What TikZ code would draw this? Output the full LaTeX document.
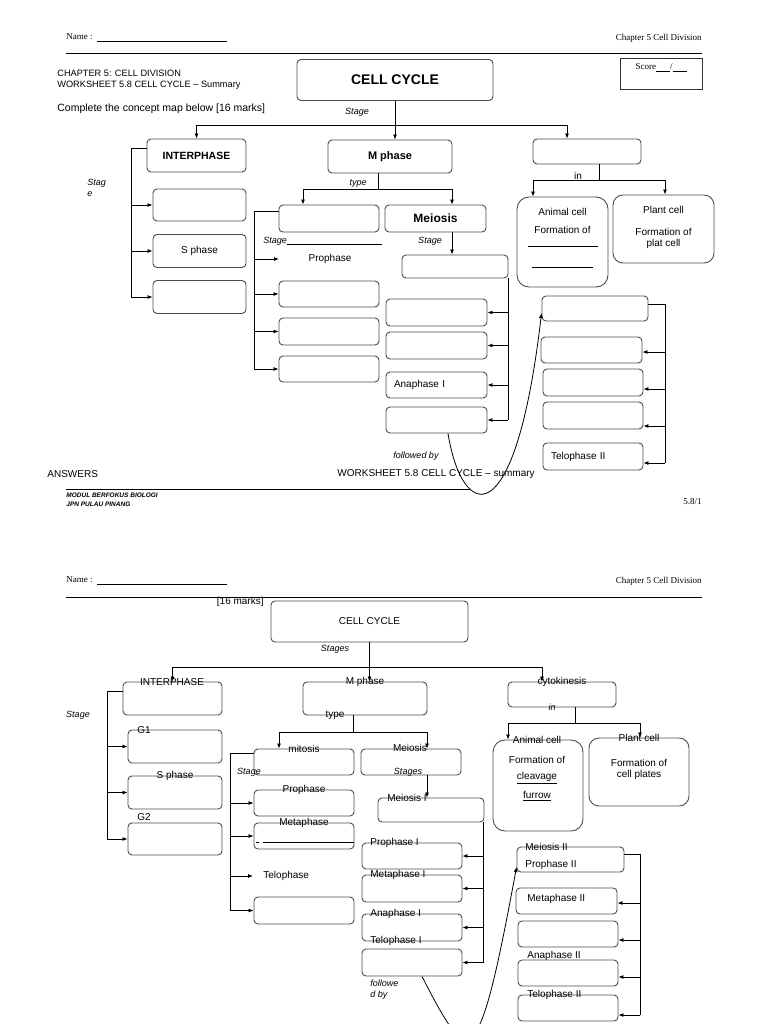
\documentclass[tikz,border=0pt]{standalone}
\usepackage{fontspec}
\setmainfont{Liberation Sans}
\newfontfamily\timesf{Liberation Serif}
\usetikzlibrary{arrows.meta}
\usetikzlibrary{positioning}
\usetikzlibrary{scopes}

\tikzset{
  box/.style={draw=black!70, rounded corners=4pt, line width=0.9pt, inner sep=0pt, font=\fontsize{10}{12}\selectfont},
  wh/.style 2 args={minimum width=#1pt, minimum height=#2pt},
  lbl/.style={inner sep=0pt, font=\fontsize{10}{12}\selectfont},
  itl/.style={inner sep=0pt, font=\fontsize{9}{11}\selectfont\itshape},
  hd/.style={inner sep=0pt, font=\timesf\fontsize{9}{11}\selectfont},
  arr/.style={-{Latex[length=5pt,width=4pt]}},
}

\begin{document}
\begin{tikzpicture}[x=1pt, y=-1pt, line width=0.8pt]
    \useasboundingbox (0,0) rectangle (768,1024);

    { [line width=1pt]
        \draw (66,54) -- (702,54);
        \draw (66,489) -- (470,489);
        \draw (66,597) -- (702,597);
    }
    \node[hd, anchor=west] (name1) at (66,38) {Name :\enspace\underline{\hspace{130pt}}};
    \node[hd, anchor=east] (chap1) at (702,38) {Chapter 5 Cell Division};
    \node[lbl, anchor=west, font=\fontsize{9.2}{11}\selectfont] (title1) at (57,73) {CHAPTER 5: CELL DIVISION};
    \node[lbl, anchor=west, font=\fontsize{9.2}{11}\selectfont] (title2) at (57,85) {WORKSHEET 5.8 CELL CYCLE -- Summary};
    \node[lbl, anchor=west, font=\fontsize{10.5}{12}\selectfont] (task1) at (57,109) {Complete the concept map below [16 marks]};
    \node[draw=black!80, wh={82}{31}, inner sep=0pt] (score) at (661,73.5) {};
    \node[hd] (scoretxt) at (661,68) {Score\underline{\hspace{14pt}}/\underline{\hspace{14pt}}};

    \node[box, wh={196}{41}, font=\bfseries\fontsize{14}{16}\selectfont] (cc) at (395,80) {CELL CYCLE};
    \node[itl] (stg1) at (357,112) {Stage};
    \node[box, wh={99}{33}, font=\bfseries\fontsize{10.5}{12}\selectfont] (inter) at (196.5,155.5) {INTERPHASE};
    \node[box, wh={93}{32}] (i1) at (199.5,205) {};
    \node[box, wh={93}{33}] (i2) at (199.5,251) {S phase};
    \node[box, wh={93}{33}] (i3) at (199.5,297) {};
    \node[itl, align=left, anchor=north west] (stg0) at (87,179) {Stag\\e};

    \node[box, wh={124}{33}, font=\bfseries\fontsize{11}{13}\selectfont] (mph) at (390,156.5) {M phase};
    \node[itl] (typ1) at (358,184) {type};
    \node[box, wh={100}{27}] (mit) at (329,218.5) {};
    \node[box, wh={101}{27}, font=\bfseries\fontsize{12}{14}\selectfont] (mei) at (435.5,218.5) {Meiosis};
    \node[itl] (stg3) at (430,241) {Stage};
    \node[box, wh={106}{23}] (mI) at (455,266.5) {};
    \node[itl, anchor=west] (stg2) at (263,241) {Stage\rule[-1.5pt]{95pt}{0.6pt}};
    \node[lbl] (pro1) at (330,259) {Prophase};
    \coordinate (pro1in) at (279,259);
    \node[box, wh={100}{26}] (m1) at (329,294) {};
    \node[box, wh={100}{27}] (m2) at (329,331.5) {};
    \node[box, wh={100}{26}] (m3) at (329,369) {};

    \node[box, wh={101}{27}] (b1) at (436.5,312.5) {};
    \node[box, wh={101}{27}] (b2) at (436.5,345.5) {};
    \node[box, wh={101}{26}, text width=85pt, align=left] (b3) at (436.5,385) {Anaphase I};
    \node[box, wh={101}{26}] (b4) at (436.5,420) {};
    \node[itl] (fol1) at (416,456) {followed by};

    \node[box, wh={106}{25}] (mII) at (595,308.5) {};
    \node[box, wh={101}{26}] (n1) at (591.5,350) {};
    \node[box, wh={100}{27}] (n2) at (593,382.5) {};
    \node[box, wh={100}{27}] (n3) at (593,415.5) {};
    \node[box, wh={100}{27}, text width=84pt, align=left] (n4) at (593,456.5) {Telophase II};

    \node[box, wh={108}{25}] (cyto) at (587,151.5) {};
    \node[lbl] (in1) at (578,176) {in};
    \node[box, wh={91}{90}, rounded corners=12pt] (ani) at (562.5,242) {};
    \node[lbl] (ani1) at (562.5,212) {Animal cell};
    \node[lbl] (ani2t) at (562.5,230) {Formation of};
    \draw (528,246) -- (598,246);
    \draw (532,267) -- (593,267);
    \node[box, wh={101}{68}, rounded corners=10pt] (pla) at (663.5,229) {};
    \node[lbl] (pla1) at (663.5,210) {Plant cell};
    \node[lbl] (pla2t) at (663.5,232) {Formation of};
    \node[lbl] (pla3) at (663.5,244) {plat cell};

    \coordinate (bus1) at (395,125);
    \draw (cc.south) -- (bus1);
    \draw[arr] (bus1) -| (inter.north);
    \draw[arr] (bus1) -- (bus1 |- mph.north);
    \draw[arr] (bus1) -| ([xshift=-20pt]cyto.north);
    \coordinate (ibr) at (131,148);
    \draw ([yshift=7.5pt]inter.west) -- (ibr) -- (ibr |- i3.west);
    \foreach \b in {i1,i2,i3} \draw[arr] (ibr |- \b.west) -- (\b.west);
    \coordinate (mbus) at (378,189);
    \draw ([xshift=-12pt]mph.south) -- (mbus);
    \draw[arr] (mbus) -| ([xshift=-26pt]mit.north);
    \draw[arr] (mbus) -| ([xshift=16.5pt]mei.north);
    \draw[arr] ([xshift=16.5pt]mei.south) -- ([xshift=16.5pt]mei.south |- mI.north);
    \coordinate (mbr) at (254,211);
    \draw ([yshift=7.5pt]mit.west) -- (mbr) -- (mbr |- m3.west);
    \draw[arr] (mbr |- pro1in) -- (pro1in);
    \foreach \b in {m1,m2,m3} \draw[arr] (mbr |- \b.west) -- (\b.west);
    \coordinate (br1) at (508,278);
    \draw (br1) -- (br1 |- b4.east);
    \foreach \b in {b1,b2,b3,b4} \draw[arr] (br1 |- \b.east) -- (\b.east);
    \coordinate (br2) at (665,304);
    \draw ([yshift=4.5pt]mII.east) -- (br2) -- ([yshift=-6.5pt]br2 |- n4.east);
    \foreach \b/\d in {n1/2,n2/6.5,n3/10.5,n4/6.5}
        \draw[arr] ([yshift=-\d pt]br2 |- \b.east) -- ([yshift=-\d pt]\b.east);
    \draw[arr] ([xshift=11.5pt]b4.south) .. controls (462,520) and (515,540) .. ([yshift=-4.5pt]mII.west);
    \coordinate (cbus) at (599,180);
    \draw ([xshift=12pt]cyto.south) -- (cbus);
    \draw[arr] (cbus) -| ([xshift=-29.5pt]ani.north);
    \draw[arr] (cbus) -| ([xshift=1.5pt]pla.north);

    \node[lbl, anchor=west] (ans) at (47,474) {ANSWERS};
    \node[lbl, anchor=west] (ws1) at (337,474) {WORKSHEET 5.8 CELL CYCLE -- summary};
    \node[inner sep=0pt, anchor=west, font=\bfseries\itshape\fontsize{6.5}{7}\selectfont] (mod) at (66,495) {MODUL BERFOKUS BIOLOGI};
    \node[inner sep=0pt, anchor=west, font=\bfseries\itshape\fontsize{6.5}{7}\selectfont] (jpn) at (66,504) {JPN PULAU PINANG};
    \node[hd, anchor=east] (pg) at (702,502) {5.8/1};

    \node[hd, anchor=west] (name2) at (66,581) {Name :\enspace\underline{\hspace{130pt}}};
    \node[hd, anchor=east] (chap2) at (702,581) {Chapter 5 Cell Division};
    \node[lbl, anchor=east] (mk2) at (264,602) {[16 marks]};
    \node[box, wh={197}{41}, font=\fontsize{10}{12}\selectfont] (cc2) at (369.5,621.5) {CELL CYCLE};
    \node[itl] (stg21) at (335,649) {Stages};

    \node[box, wh={99}{33}] (inter2) at (172.5,698.5) {};
    \node[lbl] (inter2t) at (172,682) {INTERPHASE};
    \node[itl] (stg22) at (78,715) {Stage};
    \node[box, wh={94}{33}] (g1) at (175,746.5) {};
    \node[lbl] (g1t) at (144,730) {G1};
    \node[box, wh={94}{33}] (sp2) at (175,792.5) {};
    \node[lbl] (sp2t) at (175,776) {S phase};
    \node[box, wh={94}{32}] (g2) at (175,839) {};
    \node[lbl] (g2t) at (144,817) {G2};

    \node[box, wh={124}{33}] (mph2) at (365,698.5) {};
    \node[lbl] (mph2t) at (365,682) {M phase};
    \node[lbl] (typ2) at (335,715) {type};
    \node[box, wh={100}{26}] (mit2) at (304,762) {};
    \node[lbl] (mit2t) at (304,749) {mitosis};
    \node[box, wh={100}{26}] (mei2) at (411,762) {};
    \node[lbl] (mei2t) at (410,748) {Meiosis};
    \node[itl] (stg23) at (249,772) {Stage};
    \node[itl] (stg24) at (408,772) {Stages};
    \node[box, wh={106}{24}] (mI2) at (431,810) {};
    \node[lbl] (mI2t) at (407,798) {Meiosis I};

    \node[box, wh={100}{26}] (pro2) at (304,803) {};
    \node[lbl] (pro2t) at (304,790) {Prophase};
    \node[box, wh={100}{26}] (met2) at (304,836) {};
    \node[lbl] (met2t) at (304,823) {Metaphase};
    \draw (263,842) -- (354,842);
    \draw (256,842) -- (259,842);
    \node[lbl, anchor=west] (tel2) at (263,876) {Telophase};
    \coordinate (tel2in) at (253,876);
    \node[box, wh={100}{27}] (last2) at (304,910.5) {};

    \node[box, wh={100}{26}] (p1) at (412,856) {};
    \node[lbl, anchor=west] (p1t) at (370,843) {Prophase I};
    \node[box, wh={100}{27}] (p2) at (412,888.5) {};
    \node[lbl, anchor=west] (p2t) at (370,875) {Metaphase I};
    \node[box, wh={100}{27}] (p3) at (412,927.5) {};
    \node[lbl, anchor=west] (p3t) at (370,914) {Anaphase I};
    \node[lbl, anchor=west] (p3b) at (370,941) {Telophase I};
    \node[box, wh={100}{27}] (p4) at (412,962.5) {};
    \node[itl, anchor=west] (fol2a) at (370,983) {followe};
    \node[itl, anchor=west] (fol2b) at (370,995) {d by};

    \node[box, wh={107}{25}] (mII2) at (570.5,859.5) {};
    \node[lbl, anchor=west] (mII2t) at (525,847) {Meiosis II};
    \node[lbl, anchor=west] (mII2b) at (525,865) {Prophase II};
    \node[box, wh={101}{26}] (q1) at (566.5,901) {};
    \node[lbl, anchor=west] (q1t) at (527,899) {Metaphase II};
    \node[box, wh={100}{26}] (q2) at (568,934) {};
    \node[box, wh={100}{26}] (q3) at (568,973) {};
    \node[lbl, anchor=west] (q3t) at (527,956) {Anaphase II};
    \node[box, wh={100}{26}] (q4) at (568,1008) {};
    \node[lbl, anchor=west] (q4t) at (527,995) {Telophase II};

    \node[box, wh={108}{25}] (cyto2) at (562,694.5) {};
    \node[lbl] (cyto2t) at (562,682) {cytokinesis};
    \node[itl] (in2) at (552,707) {in};
    \node[box, wh={90}{91}, rounded corners=12pt] (ani2) at (538,785.5) {};
    \node[lbl] (ani21) at (537,740) {Animal cell};
    \node[lbl] (ani22) at (537,760) {Formation of};
    \node[lbl] (ani23) at (537,778) {\underline{cleavage}};
    \node[lbl] (ani24) at (537,796) {\underline{furrow}};
    \node[box, wh={100}{68}, rounded corners=10pt] (pla2) at (639,772) {};
    \node[lbl] (pla21) at (639,738) {Plant cell};
    \node[lbl] (pla22) at (639,763) {Formation of};
    \node[lbl] (pla23) at (639,775) {cell plates};

    \coordinate (bus2) at (369.5,667);
    \draw[arr] (cc2.south) -- (cc2.south |- mph2.north);
    \draw[arr] (bus2) -| (inter2.north);
    \draw[arr] (bus2) -| ([xshift=-20pt]cyto2.north);
    \coordinate (ibr2) at (107,691);
    \draw ([yshift=7.5pt]inter2.west) -- (ibr2) -- (ibr2 |- g2.west);
    \foreach \b in {g1,sp2,g2} \draw[arr] (ibr2 |- \b.west) -- (\b.west);
    \coordinate (mbus2) at (353,732);
    \draw ([xshift=-12pt]mph2.south) -- (mbus2);
    \draw[arr] (mbus2) -| ([xshift=-25pt]mit2.north);
    \draw[arr] (mbus2) -| ([xshift=16pt]mei2.north);
    \draw[arr] ([xshift=16pt]mei2.south) -- ([xshift=16pt]mei2.south |- mI2.north);
    \coordinate (mbr2) at (230,753);
    \draw ([yshift=9pt]mit2.west) -- (mbr2) -- (mbr2 |- last2.west);
    \foreach \b in {pro2,met2,last2} \draw[arr] (mbr2 |- \b.west) -- (\b.west);
    \draw[arr] (mbr2 |- tel2in) -- (tel2in);
    \coordinate (br3) at (483,822);
    \draw (br3) -- (br3 |- p4.east);
    \foreach \b in {p1,p2,p3,p4} \draw[arr] (br3 |- \b.east) -- (\b.east);
    \coordinate (br4) at (640,854);
    \draw ([yshift=5.5pt]mII2.east) -- (br4) -- ([yshift=-7pt]br4 |- q4.east);
    \foreach \b/\d in {q1/2,q2/6,q3/4,q4/7}
        \draw[arr] ([yshift=-\d pt]br4 |- \b.east) -- ([yshift=-\d pt]\b.east);
    \draw[arr] ([xshift=10pt]p4.south) .. controls (470,1070) and (478,1075) .. ([yshift=-7.5pt]mII2.west);
    \coordinate (cbus2) at (575,723);
    \draw ([xshift=13pt]cyto2.south) -- (cbus2);
    \draw[arr] (cbus2) -| ([xshift=-30pt]ani2.north);
    \draw[arr] (cbus2) -| ([xshift=1pt]pla2.north);
\end{tikzpicture}
\end{document}
